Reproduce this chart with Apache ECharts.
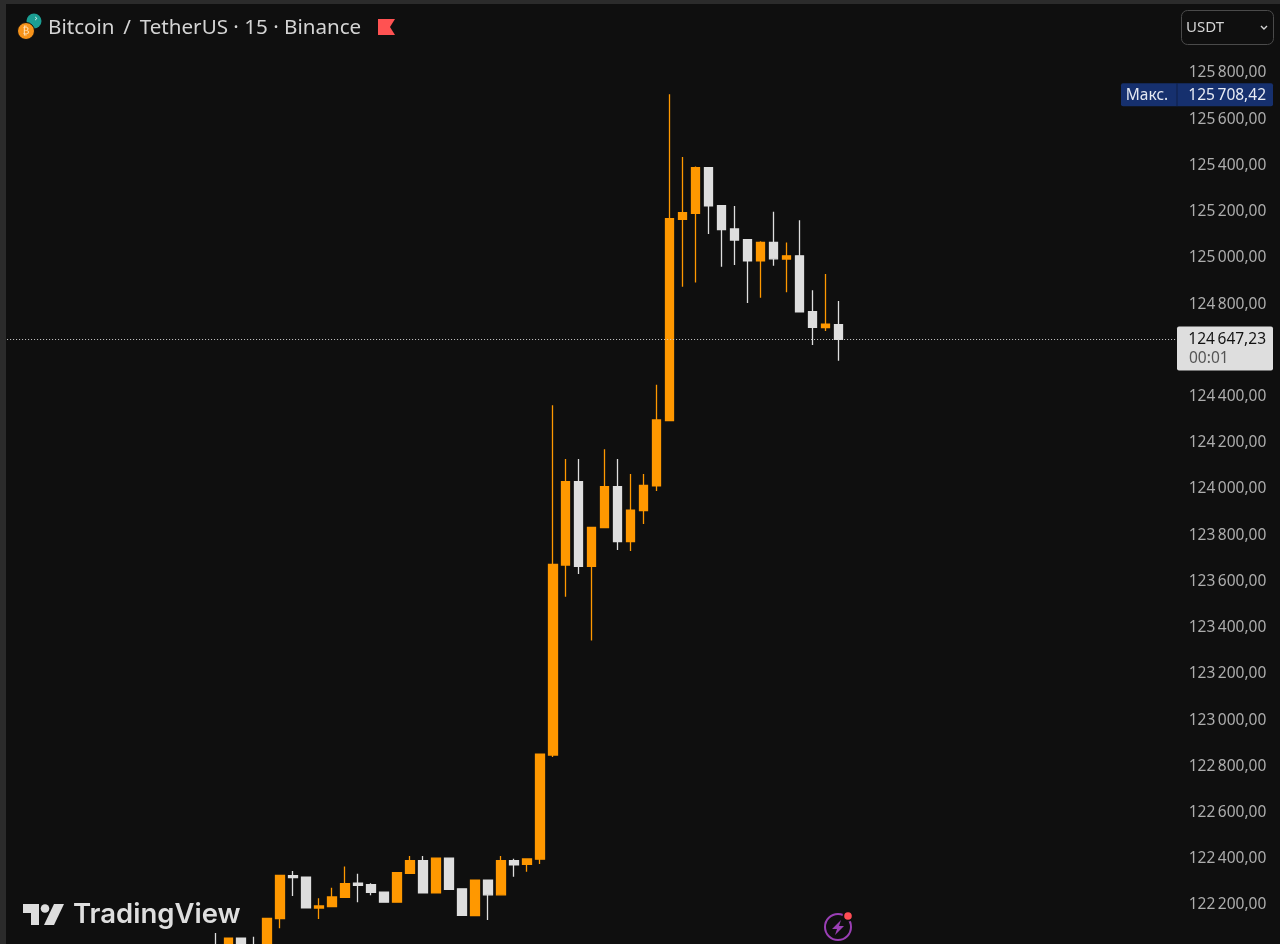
<!DOCTYPE html>
<html>
<head>
<meta charset="utf-8">
<title>BTCUSDT 15</title>
<style>
html,body{margin:0;padding:0;background:#0f0f0f;overflow:hidden;height:944px}
/* canvas runs past the window, the screenshot cuts the chart at the bottom */
#chart{width:1280px;height:960px}
</style>
<script src="https://cdn.jsdelivr.net/npm/echarts@6/dist/echarts.min.js"></script>
</head>
<body>
<div id="chart"></div>
<script>
// candles, oldest first. first four bodies sit under the bottom edge of the screenshot
var opens = [122018,122014,122057,122023,122014,122141,122327,122320,122187,122193,122233,122294,122288,122256,122212,122337,122392,122252,122403,122270,122154,122307,122244,122392,122376,122398,122849,123671,124032,123665,123833,124010,123772,123906,124014,124296,125167,125193,125390,125226,125125,125079,124987,125067,124995,125009,124767,124698,124711];
var closes = [122005,122057,122014,122005,122142,122328,122318,122188,122196,122235,122292,122285,122255,122212,122340,122392,122253,122403,122268,122155,122307,122244,122392,122374,122399,122853,123674,124032,123665,123834,124010,123772,123908,124016,124299,125170,125196,125390,125225,125122,125077,124987,125067,124996,125009,124767,124700,124713,124647.23];
var lows = [122001,122005,122014,122001,122010,122099,122239,122188,122139,122193,122233,122212,122242,122212,122212,122337,122253,122252,122268,122155,122154,122135,122244,122322,122344,122377,122840,123534,123632,123344,123833,123736,123732,123849,123991,124296,124875,124894,125103,124962,124969,124805,124828,124966,124851,124767,124623,124684,124555];
var highs = [122079,122057,122057,122063,122142,122328,122347,122320,122229,122275,122366,122335,122294,122256,122340,122412,122412,122403,122403,122270,122307,122307,122412,122400,122399,122853,124362,124130,124130,123834,124172,124130,124065,124065,124451,125708.42,125437,125396,125390,125229,125225,125079,125072,125200,125067,125163,124860,124930,124813];

// labels the price scale actually shows (124600 is under the last price tag)
var priceTicks = [125800,125600,125400,125200,125000,124800,124400,124200,124000,123800,123600,123400,123200,123000,122800,122600,122400,122200];
var lastPrice = 124647.23;
var maxPrice = 125708.42;

// empty bars left and right of the candles, the chart is scrolled
var blanksLeft = 16;
var blanksRight = 26;

var BG = '#0f0f0f';
var ORANGE = '#ff9800';
var WHITE = '#dedede';
var FONT = '"Noto Sans"';

function fmtPrice(v) {
	var s = v.toFixed(2).replace('.', ',');
	return s.slice(0, 3) + '\u2009' + s.slice(3);
}

var categories = [];
var candles = [];
for (var i = 0; i < blanksLeft + opens.length + blanksRight; i++) {
	var k = i - blanksLeft;
	categories.push(String(i));
	if (k >= 0 && k < opens.length) {
		candles.push([opens[k], closes[k], lows[k], highs[k]]);
	} else {
		candles.push(['-', '-', '-', '-']);
	}
}

var myChart = echarts.init(document.getElementById('chart'), null, {renderer: 'canvas'});

myChart.setOption({
	backgroundColor: BG,
	animation: false,
	title: {
		text: 'Bitcoin\u2009 / \u2009TetherUS · 15 · Binance',
		left: 43,
		top: 13,
		textStyle: {color: '#d4d4d4', fontSize: 20.6, fontWeight: 'normal', fontFamily: FONT}
	},
	grid: {left: 1.1, top: 26.8, width: 1181.2, height: 924.4},
	xAxis: {
		type: 'category',
		data: categories,
		show: false
	},
	yAxis: {
		type: 'value',
		position: 'right',
		min: 122000,
		max: 126000,
		interval: 200,
		splitLine: {show: false},
		axisLine: {show: false},
		axisTick: {show: false},
		axisLabel: {
			inside: false,
			margin: 84,
			align: 'right',
			color: '#adadad',
			fontSize: 15.5,
			fontFamily: FONT,
			padding: [2, 0, 0, 0],
			showMinLabel: true,
			showMaxLabel: true,
			formatter: function(v) {
				return priceTicks.indexOf(v) >= 0 ? fmtPrice(v) : '';
			}
		}
	},
	series: [{
		type: 'candlestick',
		data: candles,
		barWidth: 9,
		itemStyle: {
			color: ORANGE,
			color0: WHITE,
			borderColor: ORANGE,
			borderColor0: WHITE,
			borderWidth: 1.3
		},
		markLine: {
			silent: true,
			symbol: 'none',
			label: {show: false},
			lineStyle: {color: '#d0d0d0', type: [1, 2], width: 1},
			data: [{yAxis: lastPrice}]
		}
	}]
});

// tags and decorations, the two price tags hang on the axis scale
var yLast = myChart.convertToPixel({yAxisIndex: 0}, lastPrice);
var yMax = myChart.convertToPixel({yAxisIndex: 0}, maxPrice);
var textFont = '15.5px ' + FONT;
var Z = 100;

function rect(x, y, w, h, fill, r) {
	return {type: 'rect', z: Z, shape: {x: x, y: y, width: w, height: h, r: r || 0}, style: {fill: fill}};
}
function text(s, x, y, fill, font, align) {
	return {type: 'text', z: Z + 1, style: {text: s, x: x, y: y, fill: fill, font: font, textAlign: align || 'left', textVerticalAlign: 'middle'}};
}
function poly(points, fill) {
	return {type: 'polygon', z: Z, shape: {points: points}, style: {fill: fill}};
}

var deco = [
	// screenshot frame
	rect(0, 0, 1280, 4, '#2b2b2b'),
	rect(0, 0, 6, 944, '#2b2b2b'),

	// symbol icons
	{type: 'circle', z: Z, shape: {cx: 34, cy: 21, r: 7.5}, style: {fill: '#1b9e93'}},
	{type: 'circle', z: Z, shape: {cx: 26, cy: 31, r: 8.5}, style: {fill: '#f7931a', stroke: BG, lineWidth: 1}},
	text('₿', 26, 31.5, '#ffe2b8', '10px "DejaVu Sans"', 'center'),
	text('›', 36, 19, '#d6f2ef', '9px "DejaVu Sans"', 'center'),
	poly([[378, 19], [395, 19], [390, 27], [395, 35], [378, 35]], '#ff5252'),

	// currency switch
	{type: 'rect', z: Z, shape: {x: 1181.5, y: 10.5, width: 92, height: 34, r: 6}, style: {fill: BG, stroke: '#4a4a4a', lineWidth: 1}},
	text('USDT', 1186, 27.5, '#d4d4d4', '15px ' + FONT),
	{type: 'polyline', z: Z, shape: {points: [[1261, 26], [1264, 29], [1267, 26]]}, style: {stroke: '#d4d4d4', lineWidth: 1.4, fill: null}},

	// max label
	rect(1121, yMax - 11, 152, 23, '#16306e', 2),
	rect(1176.5, yMax - 11, 1, 23, '#0f1f47'),
	text('Макс.', 1147, yMax + 1, '#e4e8f2', textFont, 'center'),
	text(fmtPrice(maxPrice), 1266, yMax + 1, '#e8ecf5', textFont, 'right'),

	// last price tag with countdown
	rect(1177, yLast - 13, 96, 44, '#dedede', 2),
	text(fmtPrice(lastPrice), 1266, yLast, '#131313', textFont, 'right'),
	text('00:01', 1189, yLast + 19, '#555555', textFont),

	// TradingView mark
	poly([[23, 904], [39, 904], [39, 925], [31, 925], [31, 913], [23, 913]], WHITE),
	{type: 'circle', z: Z, shape: {cx: 45, cy: 908.5, r: 4.3}, style: {fill: WHITE}},
	poly([[54, 904], [64, 904], [54, 925], [44, 925]], WHITE),
	text('TradingView', 73, 915, WHITE, '600 27.5px Inter'),

	// bolt button
	{type: 'circle', z: Z, shape: {cx: 838, cy: 927, r: 13}, style: {fill: null, stroke: '#9a3fb5', lineWidth: 2}},
	{type: 'circle', z: Z, shape: {cx: 848, cy: 916, r: 5.5}, style: {fill: BG}},
	{type: 'circle', z: Z, shape: {cx: 848, cy: 916, r: 3.8}, style: {fill: '#ff4d55'}},
	poly([[841, 920], [832, 929], [837, 929], [835, 935], [844, 926], [839, 926]], '#9a3fb5')
];

myChart.setOption({graphic: {elements: deco}});
</script>
</body>
</html>
